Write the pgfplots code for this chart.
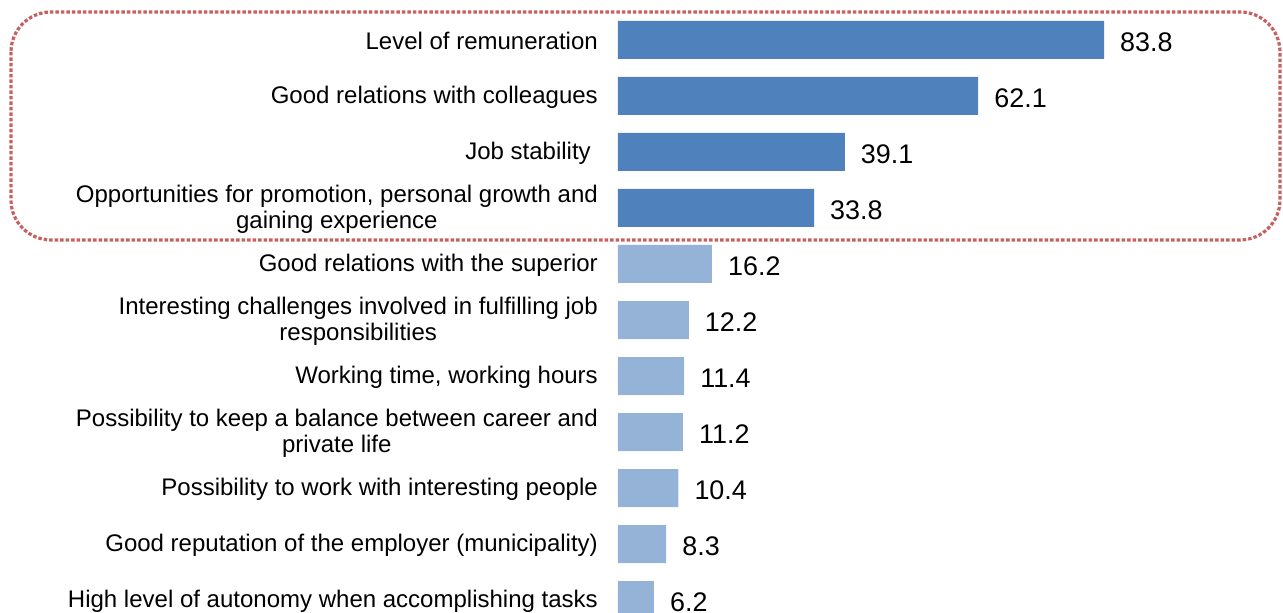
\documentclass[border=0pt]{standalone}
\usepackage{pgfplots}
\pgfplotsset{compat=1.18}
\usepackage{fontspec}
\setmainfont{Liberation Sans}
\definecolor{darkbar}{HTML}{4F81BD}
\definecolor{lightbar}{HTML}{95B3D7}
\definecolor{boxred}{HTML}{C0504D}
\begin{document}
\begin{tikzpicture}
\begin{axis}[
  name=ax,
  scale only axis,
  width=665bp, height=613bp,
  xmin=0, xmax=114.66,
  ymin=-0.714, ymax=10.232,
  y dir=reverse,
  axis line style={draw=none},
  xtick=\empty,
  ytick style={draw=none},
  major tick length=0pt,
  xbar, bar width=38bp, bar shift=0pt,
  ytick={0,...,10},
  yticklabels={
    Level of remuneration,
    Good relations with colleagues,
    Job stability\hspace{7bp},
    {Opportunities for promotion, personal growth and\\gaining experience},
    Good relations with the superior,
    {Interesting challenges involved in fulfilling job\\responsibilities},
    {Working time, working hours},
    {Possibility to keep a balance between career and\\private life},
    Possibility to work with interesting people,
    Good reputation of the employer (municipality),
    High level of autonomy when accomplishing tasks},
  yticklabel style={font=\fontsize{24.1}{26.5}\selectfont, align=center, anchor=east, inner sep=0pt, xshift=-20bp, yshift=-1bp},
  nodes near coords,
  nodes near coords style={font=\fontsize{27}{29}\selectfont, anchor=west, inner sep=0pt, xshift=16bp, yshift=-2bp},
  point meta=explicit symbolic,
]
\addplot[fill=darkbar, draw=none] coordinates {(83.8,0)[83.8] (62.1,1)[62.1] (39.1,2)[39.1] (33.8,3)[33.8]};
\addplot[fill=lightbar, draw=none] coordinates {(16.2,4)[16.2] (12.2,5)[12.2] (11.4,6)[11.4] (11.2,7)[11.2] (10.4,8)[10.4] (8.3,9)[8.3] (6.2,10)[6.2]};
\coordinate (A) at (axis cs:-104.66,-0.5);
\coordinate (B) at (axis cs:114.14,3.571);
\end{axis}
\draw[boxred!90, line width=3.2bp, dash pattern=on 3.5bp off 2bp, rounded corners=40bp] (A) rectangle (B);
\pgfresetboundingbox
\path[use as bounding box] ([xshift=-618bp]ax.south west) rectangle (ax.north east);
\end{tikzpicture}
\end{document}
